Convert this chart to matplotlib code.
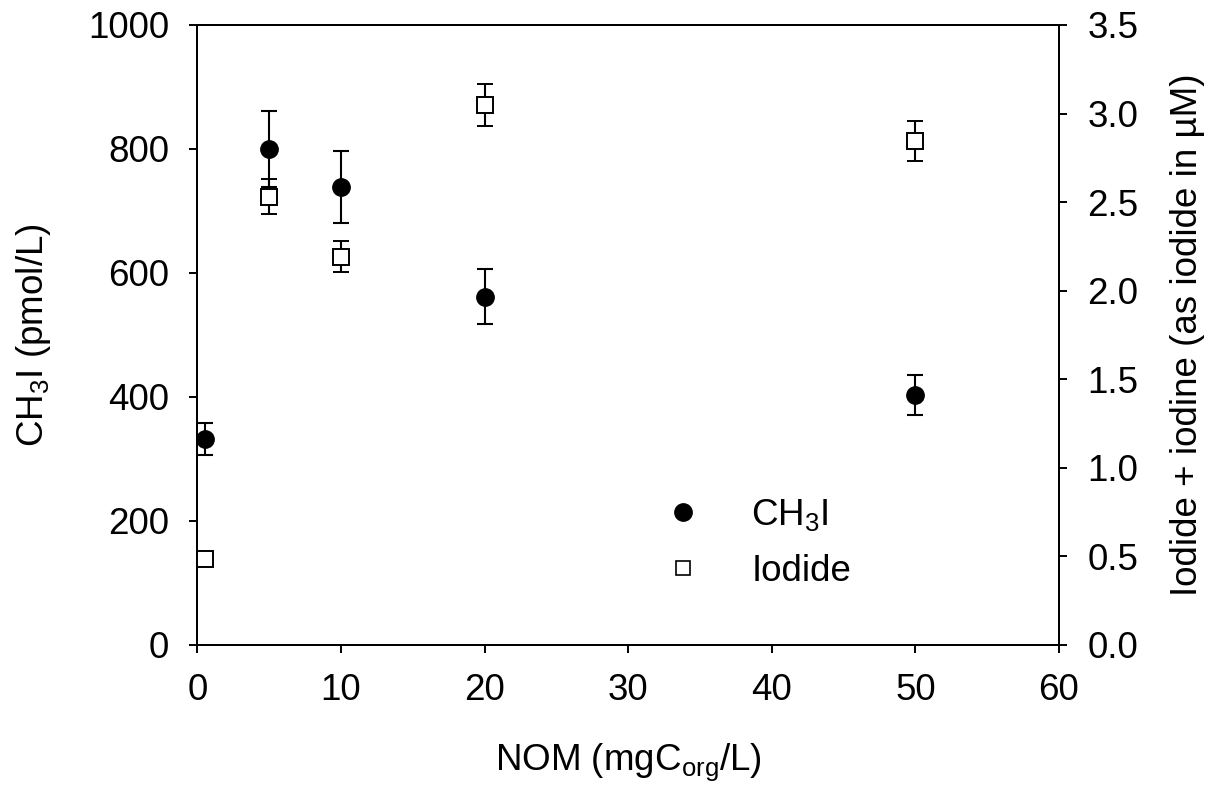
import matplotlib.pyplot as plt
from matplotlib.lines import Line2D
from matplotlib.ticker import FormatStrFormatter

plt.rcParams["font.family"] = ["Liberation Sans", "DejaVu Sans"]
plt.rcParams["mathtext.fontset"] = "custom"
plt.rcParams["mathtext.rm"] = "Liberation Sans"
plt.rcParams["mathtext.it"] = "Liberation Sans:italic"
plt.rcParams["mathtext.bf"] = "Liberation Sans:bold"

# data
nom = [0.5, 5, 10, 20, 50]
ch3i = [332, 800, 738, 562, 403]
ch3i_err = [26, 61, 58, 44, 32]
iodide = [0.484, 2.531, 2.192, 3.048, 2.845]
iodide_err = [0.0, 0.10, 0.087, 0.12, 0.115]

fig = plt.figure(figsize=(12.19, 7.96), dpi=100)
ax = fig.add_axes([0.162, 0.1897, 0.7067, 0.7789])
ax2 = ax.twinx()

lw = 1.5
ax.errorbar(nom, ch3i, yerr=ch3i_err, fmt="o", color="black", ms=12.5,
            ecolor="black", elinewidth=lw, capsize=6, capthick=lw, zorder=3)
ax2.errorbar(nom, iodide, yerr=iodide_err, fmt="s", mfc="white", mec="black",
             mew=1.4, ms=11.5, ecolor="black", elinewidth=lw, capsize=6,
             capthick=lw, zorder=3)

ax.set_xlim(0, 60)
ax.set_ylim(0, 1000)
ax2.set_ylim(0, 3.5)
ax.set_xticks(range(0, 61, 10))
ax.set_yticks(range(0, 1001, 200))
ax2.set_yticks([i * 0.5 for i in range(8)])
ax2.yaxis.set_major_formatter(FormatStrFormatter("%.1f"))

fs = 26.5
for a in (ax, ax2):
    for s in a.spines.values():
        s.set_linewidth(1.4)
    a.tick_params(direction="out", length=5.5, width=1.4, labelsize=fs, pad=15)

ax.set_xlabel(r"NOM (mgC$_\mathregular{org}$/L)", fontsize=fs, labelpad=24)
ax.set_ylabel(r"CH$_\mathregular{3}$I (pmol/L)", fontsize=fs, labelpad=25)
ax2.set_ylabel("Iodide + iodine (as iodide in µM)", fontsize=fs, labelpad=23)

handles = [
    Line2D([], [], ls="none", marker="o", color="black", ms=12.5),
    Line2D([], [], ls="none", marker="s", mfc="white", mec="black", mew=1.2, ms=10.5),
]
ax2.legend(handles, [r"CH$_\mathregular{3}$I", "Iodide"], loc="center left",
           bbox_to_anchor=(0.4935, 0.164), frameon=False, fontsize=fs,
           handletextpad=1.1, labelspacing=0.57, handlelength=1.5)

fig.savefig("out.png", dpi=100)
